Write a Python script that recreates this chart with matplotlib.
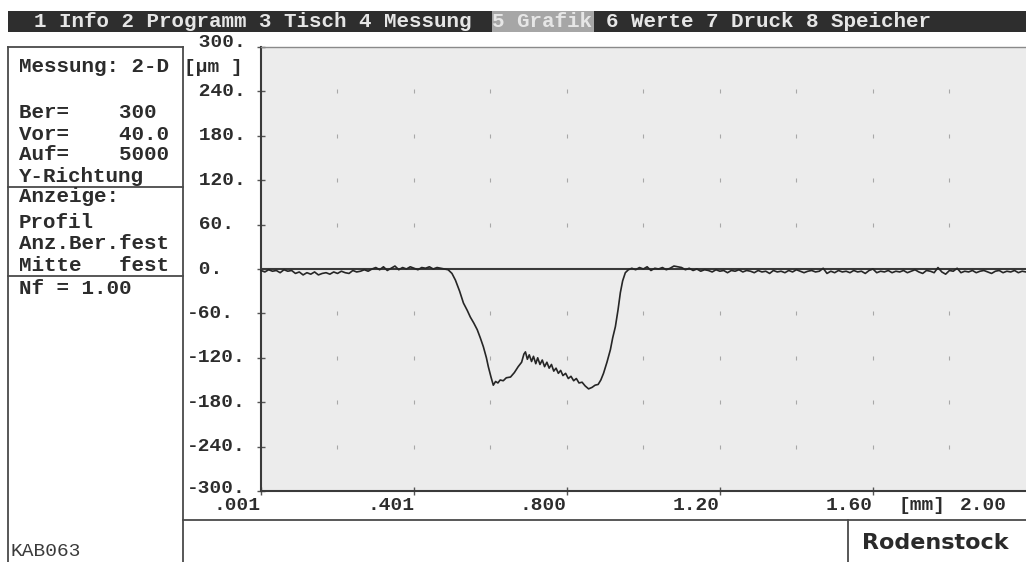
import numpy as np
import matplotlib
matplotlib.use("Agg")
import matplotlib.pyplot as plt
from matplotlib.lines import Line2D
from matplotlib.patches import Rectangle
from matplotlib.transforms import blended_transform_factory

# -------- Data --------
menu_parts = [
    ("1 Info 2 Programm 3 Tisch 4 Messung", 34),
    ("5 Grafik", 492),
    ("6 Werte 7 Druck 8 Speicher", 606),
]

panel_rows = [
    ("Messung: 2-D", 66),
    ("Ber=    300", 112),
    ("Vor=    40.0", 134),
    ("Auf=    5000", 155),
    ("Y-Richtung", 177),
    ("Anzeige:", 196),
    ("Profil", 222),
    ("Anz.Ber.fest", 244),
    ("Mitte   fest", 266),
    ("Nf = 1.00", 288),
]

y_ticks = [300, 240, 180, 120, 60, 0, -60, -120, -180, -240, -300]
y_tick_labels = [" 300.", " 240.", " 180.", " 120.", " 60.", " 0.",
                 "-60.", "-120.", "-180.", "-240.", "-300."]
x_ticks = [0.001, 0.401, 0.800, 1.20, 1.60]
x_tick_labels = [".001", ".401", ".800", "1.20", "1.60"]

grid_x = [0.2, 0.401, 0.6, 0.8, 1.0, 1.2, 1.4, 1.6, 1.8]
grid_y = [-240, -180, -120, -60, 60, 120, 180, 240]

# baseline before the groove (0.001 .. 0.481 mm, step 0.01)
left_y = [-2, -4, -1, -3, -2, -5, -1, -3, -2, -6, -4, -8, -5, -7, -4, -8,
          -6, -5, -7, -4, -6, -3, -5, -6, -2, -4, -3, -1, -3, 0, 2, -1, 3,
          -2, 1, 4, -1, 2, 0, 3, 1, -1, 2, 1, 3, 0, 2, 1, 0]

# groove profile
groove_x = [0.490, 0.500, 0.509, 0.520, 0.530, 0.540, 0.548, 0.557, 0.566,
            0.574, 0.582, 0.590, 0.595, 0.602, 0.608, 0.614, 0.620, 0.626,
            0.634, 0.642, 0.653, 0.663, 0.673, 0.682, 0.688, 0.692, 0.697,
            0.702, 0.708, 0.713, 0.719, 0.724, 0.730, 0.736, 0.742, 0.748,
            0.754, 0.760, 0.766, 0.772, 0.778, 0.784, 0.790, 0.797, 0.804,
            0.811, 0.818, 0.825, 0.832, 0.840, 0.848, 0.857, 0.866, 0.874,
            0.882, 0.889, 0.896, 0.905, 0.914, 0.920, 0.927, 0.934, 0.940,
            0.946, 0.953, 0.961]
groove_y = [-1, -6, -15, -30, -46, -56, -65, -73, -82, -93, -105, -120, -132,
            -146, -157, -152, -154, -150, -151, -147, -146, -140, -132, -126,
            -115, -112, -122, -116, -125, -118, -128, -120, -129, -123, -132,
            -126, -134, -129, -138, -134, -141, -137, -144, -141, -148, -145,
            -151, -148, -154, -153, -158, -162, -160, -157, -156, -150, -141,
            -126, -109, -93, -78, -55, -32, -16, -5, -1]

# baseline after the groove (0.97 .. 2.00 mm, step 0.01)
right_y = [1, -1, 2, 0, 3, -2, 1, 0, 2, -1,
           1, 4, 3, 2, -1, 1, -2, 0, -3, -1,
           -2, -4, -1, -3, -2, -5, -2, -3, -1, -4,
           -2, -3, -5, -2, -4, -3, -6, -2, -4, -3,
           -5, -2, -4, -1, -3, -5, -3, -2, -4, -3,
           1, -6, -3, -5, -2, -4, -3, -5, -2, -4,
           -3, -6, -2, 0, -5, -3, -4, -2, -5, -3,
           -4, -2, -5, -3, -1, -4, -6, -2, -3, -5,
           2, -4, -7, -2, -3, 1, -5, -3, -4, -2,
           -5, -3, -2, -4, -6, -3, -2, -5, -3, -4,
           -2, -5, -3, -4]

left_x = np.round(np.linspace(0.001, 0.481, len(left_y)), 3)
right_x = np.round(np.linspace(0.97, 2.00, len(right_y)), 3)
prof_x = np.concatenate([left_x, groove_x, right_x])
prof_y = np.concatenate([left_y, groove_y, right_y])

# -------- Figure --------
W, H = 1026, 562
fig = plt.figure(figsize=(W / 100, H / 100), dpi=100)
fig.patch.set_facecolor("white")

MONO = ["Liberation Mono", "DejaVu Sans Mono"]
TXT = "#2c2c2c"


def fx(x):
    return x / W


def fy(y):
    return 1 - y / H


def hline(y, x0, x1, color="#4a4a4a", lw=1.3):
    fig.add_artist(Line2D([fx(x0), fx(x1)], [fy(y), fy(y)],
                          transform=fig.transFigure, color=color, lw=lw))


def vline(x, y0, y1, color="#4a4a4a", lw=1.3):
    fig.add_artist(Line2D([fx(x), fx(x)], [fy(y0), fy(y1)],
                          transform=fig.transFigure, color=color, lw=lw))


# menu bar
fig.add_artist(Rectangle((fx(8), fy(32)), fx(1026 - 8), (32 - 11) / H,
                         transform=fig.transFigure, color="#2e2e2e", lw=0))
fig.add_artist(Rectangle((fx(492), fy(32)), fx(594 - 492), (32 - 11) / H,
                         transform=fig.transFigure, color="#a6a6a6", lw=0))
for txt, x in menu_parts:
    fig.text(fx(x), fy(21.5), txt, family=MONO, weight="bold",
             fontsize=15, color="#e6e6e6", ha="left", va="center")

# left panel
vline(8, 47, 562)
vline(183, 47, 562)
hline(47, 8, 183)
hline(187, 8, 183)
hline(276, 8, 183)
for txt, y in panel_rows:
    fig.text(fx(19), fy(y), txt, family=MONO, weight="bold", fontsize=15,
             color=TXT, ha="left", va="center")
fig.text(fx(10), fy(552), "KAB063", family=MONO, fontsize=14,
         color="#3a3a3a", ha="left", va="center")

# bottom frame
hline(520, 183, 1026)
vline(848, 520, 562)
fig.text(fx(935), fy(543), "Rodenstock",
         family=["Liberation Sans Narrow", "DejaVu Sans"], weight="bold",
         fontsize=16, color="#2a2a2a", ha="center", va="center")

# -------- Plot --------
ax = fig.add_axes([fx(261), fy(491), fx(1026 - 261), (491 - 47) / H])
ax.set_facecolor("#ececec")
ax.set_xlim(0.001, 2.0)
ax.set_ylim(-300, 300)

for s in ["left", "bottom"]:
    ax.spines[s].set_color("#3a3a3a")
    ax.spines[s].set_linewidth(1.5)
ax.spines["top"].set_color("#8a8a8a")
ax.spines["top"].set_linewidth(1.0)
ax.spines["right"].set_visible(False)

ax.set_yticks(y_ticks)
ax.set_xticks(x_ticks)
ax.tick_params(direction="inout", length=6, width=1, color="#555555",
               labelleft=False, labelbottom=False)

gx, gy = np.meshgrid(grid_x, grid_y)
ax.scatter(gx.ravel(), gy.ravel(), marker="|", s=8, color="#a8a8a8",
           linewidths=0.8, zorder=1)

ax.axhline(0, color="#3a3a3a", lw=1.5, zorder=2)
ax.plot(prof_x, prof_y, color="#262626", lw=1.2, zorder=3, clip_on=False)

ty = blended_transform_factory(fig.transFigure, ax.transData)
for v, lab in zip(y_ticks, y_tick_labels):
    ax.text(fx(187), v + (6 if v == 300 else 0) + (4 if v == -300 else 0),
            lab, transform=ty, family=MONO, weight="bold", fontsize=14,
            color=TXT, ha="left", va="center")
fig.text(fx(184), fy(67), "[µm ]", family=MONO, weight="bold", fontsize=14,
         color=TXT, ha="left", va="center")

tx = blended_transform_factory(ax.transData, fig.transFigure)
for v, lab in zip(x_ticks, x_tick_labels):
    ax.text(v, fy(506), lab, transform=tx, family=MONO, weight="bold",
            fontsize=14, color=TXT, ha="right", va="center")
fig.text(fx(898), fy(506), "[mm]", family=MONO, weight="bold", fontsize=14,
         color=TXT, ha="left", va="center")
fig.text(fx(1007), fy(506), "2.00", family=MONO, weight="bold", fontsize=14,
         color=TXT, ha="right", va="center")

fig.savefig("out.png", dpi=100, facecolor=fig.get_facecolor())
